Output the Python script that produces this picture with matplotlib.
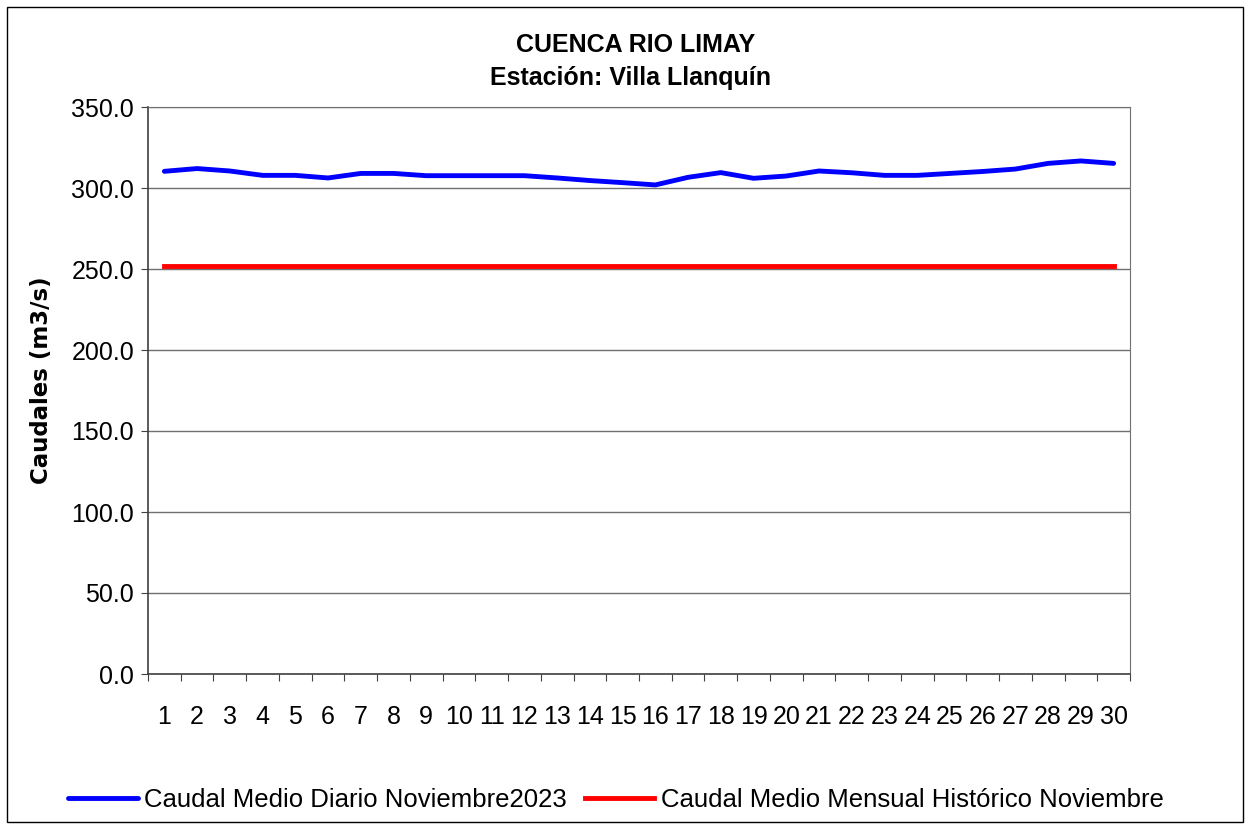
import numpy as np
import matplotlib
matplotlib.use('agg')
import matplotlib.pyplot as plt
from matplotlib.patches import Rectangle

plt.rcParams['font.family'] = ['Liberation Sans', 'DejaVu Sans']

## Datos
dias = list(range(1, 31))
caudal_diario = [310.3, 312.0, 310.5, 307.8, 307.8, 306.2, 309.0, 309.0, 307.6, 307.6,
                 307.6, 307.6, 306.2, 304.6, 303.3, 301.9, 306.6, 309.5, 306.0, 307.4,
                 310.5, 309.4, 307.8, 307.8, 309.0, 310.2, 311.7, 315.2, 316.7, 315.2]
caudal_historico = [252.0] * 30
yticks = [0, 50, 100, 150, 200, 250, 300, 350]

fig = plt.figure(figsize=(12.51, 8.30), dpi=100)
ax = fig.add_axes([148/1251, 1 - 674/830, (1130-148)/1251, (674-107)/830])

# marco exterior del grafico
fig.patches.append(Rectangle((7/1251, 8/830), 1236/1251, 815/830, transform=fig.transFigure,
                             fill=False, edgecolor='black', linewidth=1.0))

l1, = ax.plot(dias, caudal_diario, color='#0000ff', linewidth=3.5,
              label='Caudal Medio Diario Noviembre2023', solid_capstyle='round')
l2, = ax.plot(dias, caudal_historico, color='#ff0000', linewidth=3.5,
              label='Caudal Medio Mensual Histórico Noviembre')

ax.set_xlim(0.5, 30.5)
ax.set_ylim(0, 350)
ax.set_yticks(yticks)
ax.set_yticklabels(['%.1f' % v for v in yticks], fontsize=18)
ax.yaxis.grid(True, color='#707070', linewidth=1.0)
ax.set_axisbelow(True)

# etiquetas de los dias centradas, marcas entre categorias
ax.set_xticks(np.arange(0.5, 31, 1))
ax.set_xticklabels([])
ax.set_xticks(dias, minor=True)
ax.set_xticklabels([str(d) for d in dias], minor=True, fontsize=18)
ax.tick_params(axis='x', which='minor', length=0, pad=22)
ax.tick_params(axis='x', which='major', length=5, direction='out', color='#404040')
ax.tick_params(axis='y', length=5, direction='out', color='#404040', pad=5)

for s in ['top', 'right']:
    ax.spines[s].set_color('#707070')
for s in ['left', 'bottom']:
    ax.spines[s].set_color('#404040')
    ax.spines[s].set_linewidth(1.2)

fig.text(636/1251, 1 - 45/830, 'CUENCA RIO LIMAY', ha='center', va='center',
         fontsize=18, fontweight='bold')
fig.text(630/1251, 1 - 78/830, 'Estación: Villa Llanquín', ha='center', va='center',
         fontsize=18, fontweight='bold')
fig.text(42/1251, 1 - 380/830, 'Caudales (m3/s)', rotation=90, ha='center', va='center',
         fontsize=16.5, fontweight='bold', family='DejaVu Sans')

fig.legend(handles=[l1, l2], loc='center', bbox_to_anchor=(616/1251, 1 - 800/830),
           ncol=2, frameon=False, fontsize=18.5, handlelength=2.7, handletextpad=0.25,
           columnspacing=0.7)

plt.savefig('out.png', dpi=100)
